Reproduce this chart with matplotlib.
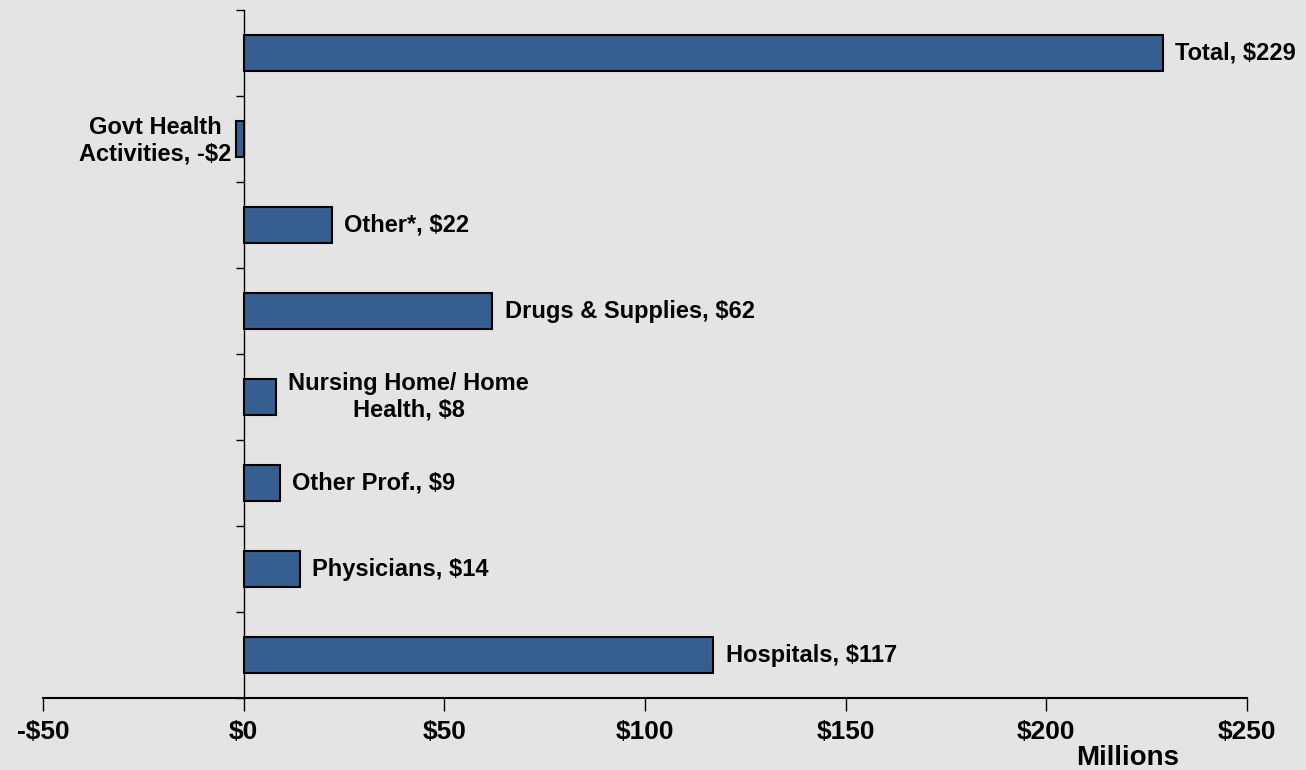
import numpy as np
import matplotlib.pyplot as plt
from matplotlib.ticker import FixedLocator

# bottom to top, millions of dollars
categories = ['Hospitals', 'Physicians', 'Other Prof.', 'Nursing Home/ Home\nHealth',
              'Drugs & Supplies', 'Other*', 'Govt Health\nActivities', 'Total']
values = [117, 14, 9, 8, 62, 22, -2, 229]
tick_values = [-50, 0, 50, 100, 150, 200, 250]
tick_labels = ['-$50', '$0', '$50', '$100', '$150', '$200', '$250']

BG = '#e4e4e4'
BAR = '#365f91'

plt.rcParams['font.family'] = ['Liberation Sans', 'DejaVu Sans']

fig = plt.figure(figsize=(13.06, 7.7), dpi=100, facecolor=BG)
ax = fig.add_axes([0.0329, 0.0935, 0.9219, 0.8935])
ax.set_facecolor(BG)

y = np.arange(len(categories))
ax.barh(y, values, height=0.43, color=BAR, edgecolor='black', linewidth=1.5, zorder=3)

for yi, cat, v in zip(y, categories, values):
    txt = '{}, {}'.format(cat, '-$%d' % -v if v < 0 else '$%d' % v)
    if v < 0:
        ax.annotate(txt, (v, yi), xytext=(-3, -1), textcoords='offset points',
                    ha='right', va='center', multialignment='center',
                    fontsize=17, fontweight='bold', linespacing=1.2)
    else:
        ax.annotate(txt, (v, yi), xytext=(9, 0), textcoords='offset points',
                    ha='left', va='center', multialignment='center',
                    fontsize=17, fontweight='bold', linespacing=1.2)

ax.set_xlim(-50, 250)
ax.set_ylim(-0.5, len(categories) - 0.5)

ax.set_xticks(tick_values)
ax.set_xticklabels(tick_labels, fontsize=19, fontweight='bold')
ax.tick_params(axis='x', direction='out', length=9, width=1, pad=7)

ax.set_yticks([])
ax.yaxis.set_minor_locator(FixedLocator(np.arange(-0.5, len(categories), 1.0)))
ax.tick_params(axis='y', which='minor', direction='out', length=6, width=1)
ax.tick_params(axis='y', which='major', left=False, labelleft=False)

for s in ['top', 'right']:
    ax.spines[s].set_visible(False)
ax.spines['left'].set_position(('data', 0))
ax.spines['left'].set_linewidth(1)
ax.spines['bottom'].set_linewidth(1.5)

fig.text(1128 / 1306, 1 - 758 / 770, 'Millions', ha='center', va='center',
         fontsize=20, fontweight='bold')

fig.savefig('out.png', dpi=100, facecolor=BG)
